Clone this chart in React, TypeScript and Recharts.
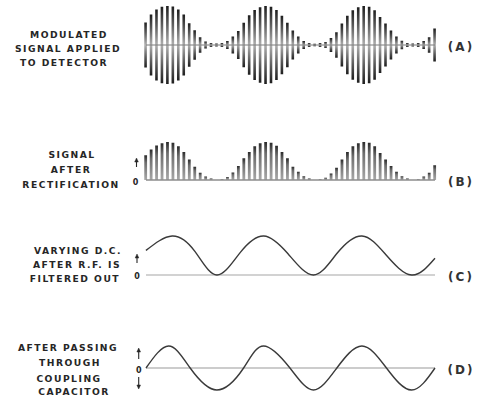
import React from 'react';
import { ComposedChart, Bar, Line, XAxis, YAxis, ReferenceLine } from 'recharts';

// (A) modulated carrier: peak amplitude of each carrier cycle (0..1)
const modulatedAmplitude = [
  0.58, 0.78, 0.91, 0.98, 1.0, 0.99, 0.91, 0.78, 0.56, 0.38, 0.2, 0.09, 0.05, 0.04,
  0.05, 0.1, 0.22, 0.36, 0.57, 0.76, 0.9, 0.97, 1.0, 0.98, 0.9, 0.75, 0.57, 0.37,
  0.22, 0.1, 0.05, 0.03, 0.05, 0.08, 0.18, 0.33, 0.55, 0.75, 0.89, 0.97, 1.0, 0.98,
  0.89, 0.72, 0.55, 0.37, 0.22, 0.11, 0.05, 0.04, 0.05, 0.1, 0.2, 0.42,
];

// (B) rectified pulses: height of each half-wave pulse (0..1)
const rectifiedPulse = [
  0.65, 0.8, 0.91, 0.97, 1.0, 0.98, 0.89, 0.74, 0.54, 0.35, 0.19, 0.09, 0.04, 0.0,
  0.02, 0.08, 0.2, 0.37, 0.57, 0.74, 0.89, 0.97, 1.0, 0.98, 0.9, 0.74, 0.57, 0.35,
  0.22, 0.1, 0.04, 0.0, 0.02, 0.06, 0.17, 0.32, 0.54, 0.74, 0.89, 0.97, 1.0, 0.98,
  0.89, 0.71, 0.54, 0.37, 0.22, 0.1, 0.04, 0.0, 0.02, 0.09, 0.19, 0.39,
];

// (C) varying D.C. after R.F. filtered out (time in carrier cycles, level 0..1)
const dcTime = [0, 4.8, 9.0, 13.0, 17.3, 21.6, 26.0, 30.7, 35.0, 39.6, 44.0, 48.7, 53.0];
const dcLevel = [0.63, 1.0, 0.6, 0.0, 0.58, 1.0, 0.55, 0.0, 0.55, 1.0, 0.52, 0.0, 0.43];

// (D) after coupling capacitor (time in carrier cycles, level -1..1)
const acTime = [0, 4.15, 8.1, 13.0, 17.9, 21.55, 26.4, 30.7, 35.0, 39.6, 44.1, 48.7, 53.0];
const acLevel = [0, 1.0, 0, -1.0, 0, 1.0, 0, -1.0, 0, 1.0, 0, -1.0, 0];

const panelLabels = {
  a: ['MODULATED', 'SIGNAL APPLIED', 'TO DETECTOR'],
  b: ['SIGNAL', 'AFTER', 'RECTIFICATION'],
  c: ['VARYING D.C.', 'AFTER R.F. IS', 'FILTERED OUT'],
  d: ['AFTER PASSING', 'THROUGH', 'COUPLING', 'CAPACITOR'],
};
const panelTags = ['(A)', '(B)', '(C)', '(D)'];

const aData = modulatedAmplitude.map((amp, cycle) => ({ cycle, amp }));
const bData = rectifiedPulse.map((pulse, cycle) => ({ cycle, pulse }));
const cData = dcTime.map((t, i) => ({ t, v: dcLevel[i] }));
const dData = acTime.map((t, i) => ({ t, v: acLevel[i] }));

const FONT = '"DejaVu Sans", sans-serif';
const INK = '#262626';
const W = 484;
const MARGIN_X = { left: 146, right: 49 };

const labelStyle = {
  fontFamily: FONT,
  fontWeight: 700,
  fontSize: 9.2,
  letterSpacing: 1.5,
  fill: INK,
} as const;

const tagStyle = {
  fontFamily: FONT,
  fontWeight: 700,
  fontSize: 12,
  letterSpacing: 2,
  fill: '#333333',
} as const;

const smallStyle = {
  fontFamily: FONT,
  fontWeight: 700,
  fontSize: 8,
  fill: INK,
} as const;

function Arrow({ x, y1, y2 }: { x: number; y1: number; y2: number }) {
  // y1 = tail, y2 = tip
  const dir = y2 < y1 ? 1 : -1;
  return (
    <g stroke={INK} fill={INK}>
      <line x1={x} y1={y1} x2={x} y2={y2 + dir * 2} strokeWidth={1.1} />
      <path
        d={`M${x - 1.8},${y2 + dir * 4} L${x},${y2} L${x + 1.8},${y2 + dir * 4} Z`}
        strokeWidth={0.5}
      />
    </g>
  );
}

function Labels() {
  const lines: { text: string; x: number; y: number }[] = [
    { text: panelLabels.a[0], x: 69, y: 38 },
    { text: panelLabels.a[1], x: 68, y: 52 },
    { text: panelLabels.a[2], x: 64, y: 65.5 },
    { text: panelLabels.b[0], x: 72, y: 158.3 },
    { text: panelLabels.b[1], x: 71, y: 172.5 },
    { text: panelLabels.b[2], x: 71, y: 187.5 },
    { text: panelLabels.c[0], x: 78, y: 254.3 },
    { text: panelLabels.c[1], x: 77, y: 267.5 },
    { text: panelLabels.c[2], x: 75, y: 282 },
    { text: panelLabels.d[0], x: 68, y: 350.5 },
    { text: panelLabels.d[1], x: 70, y: 366 },
    { text: panelLabels.d[2], x: 69, y: 381.5 },
    { text: panelLabels.d[3], x: 74, y: 395 },
  ];
  const tags = [
    { text: panelTags[0], y: 51 },
    { text: panelTags[1], y: 186 },
    { text: panelTags[2], y: 280.5 },
    { text: panelTags[3], y: 373.5 },
  ];
  return (
    <svg
      width={W}
      height={402}
      style={{ position: 'absolute', left: 0, top: 0, pointerEvents: 'none' }}
    >
      {lines.map((l) => (
        <text key={l.text} x={l.x} y={l.y} textAnchor="middle" style={labelStyle}>
          {l.text}
        </text>
      ))}
      {tags.map((t) => (
        <text key={t.text} x={461} y={t.y} textAnchor="middle" style={tagStyle}>
          {t.text}
        </text>
      ))}
      <Arrow x={136.5} y1={167} y2={158} />
      <text x={135.5} y={184.5} textAnchor="middle" style={smallStyle}>0</text>
      <Arrow x={137} y1={263} y2={254} />
      <text x={137} y={278.5} textAnchor="middle" style={smallStyle}>0</text>
      <Arrow x={138.7} y1={359} y2={348} />
      <text x={138.7} y={372.5} textAnchor="middle" style={smallStyle}>0</text>
      <Arrow x={138.7} y1={377} y2={389} />
    </svg>
  );
}

export default function App() {
  return (
    <div
      style={{
        position: 'absolute',
        left: 0,
        top: 0,
        width: W,
        height: 402,
        background: '#ffffff',
        overflow: 'hidden',
      }}
    >
      {/* (A) */}
      <div style={{ position: 'absolute', left: 0, top: 0 }}>
        <ComposedChart
          width={W}
          height={90}
          data={aData}
          margin={{ top: 6, bottom: 6, ...MARGIN_X }}
        >
          <defs>
            <linearGradient id="gradA" x1="0" y1="0" x2="0" y2="1">
              <stop offset="0" stopColor="#1e1e1e" />
              <stop offset="0.22" stopColor="#595959" />
              <stop offset="0.5" stopColor="#b0b0b0" />
              <stop offset="0.78" stopColor="#595959" />
              <stop offset="1" stopColor="#1e1e1e" />
            </linearGradient>
          </defs>
          <XAxis dataKey="cycle" type="number" domain={[0, 53]} hide />
          <YAxis type="number" domain={[-1, 1]} hide allowDataOverflow />
          <ReferenceLine y={0} stroke="#7a7a7a" strokeWidth={1} />
          <Bar
            dataKey={(d: { amp: number }) => [-d.amp, d.amp]}
            barSize={2.6}
            fill="url(#gradA)"
            isAnimationActive={false}
          />
        </ComposedChart>
      </div>

      {/* (B) */}
      <div style={{ position: 'absolute', left: 0, top: 130 }}>
        <ComposedChart
          width={W}
          height={60}
          data={bData}
          margin={{ top: 12, bottom: 10, ...MARGIN_X }}
        >
          <defs>
            <linearGradient id="gradB" x1="0" y1="0" x2="0" y2="1">
              <stop offset="0" stopColor="#2a2a2a" />
              <stop offset="0.3" stopColor="#6e6e6e" />
              <stop offset="1" stopColor="#a8a8a8" />
            </linearGradient>
          </defs>
          <XAxis dataKey="cycle" type="number" domain={[0, 53]} hide />
          <YAxis type="number" domain={[0, 1]} hide allowDataOverflow />
          <Bar dataKey="pulse" barSize={2.8} fill="url(#gradB)" isAnimationActive={false} />
          <ReferenceLine y={0} stroke="#8c8c8c" strokeWidth={1.3} />
        </ComposedChart>
      </div>

      {/* (C) */}
      <div style={{ position: 'absolute', left: 0, top: 225 }}>
        <ComposedChart
          width={W}
          height={70}
          data={cData}
          margin={{ top: 11, bottom: 20, ...MARGIN_X }}
        >
          <XAxis dataKey="t" type="number" domain={[0, 53]} hide />
          <YAxis type="number" domain={[0, 1]} hide />
          <ReferenceLine y={0} stroke="#a6a6a6" strokeWidth={1.2} />
          <Line
            dataKey="v"
            type="natural"
            stroke="#3a3a3a"
            strokeWidth={1.4}
            dot={false}
            isAnimationActive={false}
          />
        </ComposedChart>
      </div>

      {/* (D) */}
      <div style={{ position: 'absolute', left: 0, top: 330 }}>
        <ComposedChart
          width={W}
          height={70}
          data={dData}
          margin={{ top: 16, bottom: 10, ...MARGIN_X }}
        >
          <XAxis dataKey="t" type="number" domain={[0, 53]} hide />
          <YAxis type="number" domain={[-1, 1]} hide />
          <ReferenceLine y={0} stroke="#9a9a9a" strokeWidth={1.1} />
          <Line
            dataKey="v"
            type="natural"
            stroke="#3a3a3a"
            strokeWidth={1.4}
            dot={false}
            isAnimationActive={false}
          />
        </ComposedChart>
      </div>

      <Labels />
    </div>
  );
}
